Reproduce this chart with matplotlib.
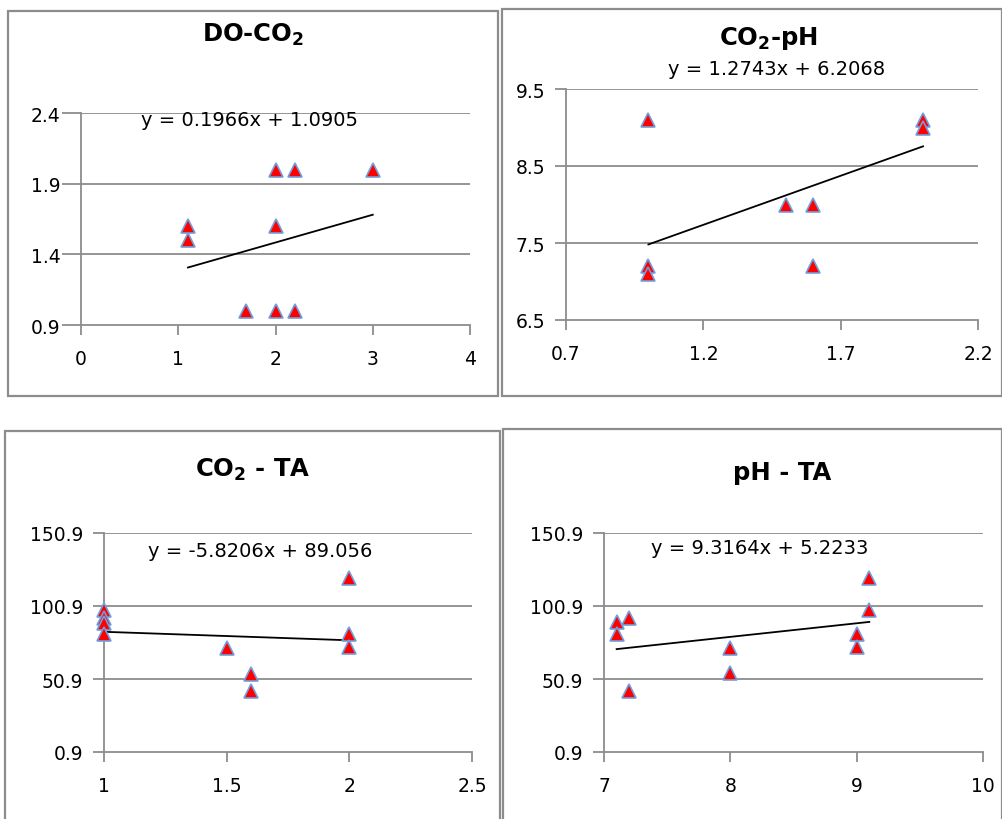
import numpy as np
import matplotlib
matplotlib.use('Agg')
import matplotlib.pyplot as plt
from matplotlib.patches import Rectangle

plt.rcParams['font.family'] = ['DejaVu Sans']
plt.rcParams['mathtext.fontset'] = 'dejavusans'

# DO - CO2
do_x = [1.1, 1.1, 1.7, 2.0, 2.0, 2.0, 2.2, 2.2, 3.0]
do_y = [1.6, 1.5, 1.0, 2.0, 1.6, 1.0, 2.0, 1.0, 2.0]
do_fit = (0.1966, 1.0905)

# CO2 - pH
cp_x = [1.0, 1.0, 1.0, 1.5, 1.6, 1.6, 2.0, 2.0]
cp_y = [9.1, 7.2, 7.1, 8.0, 8.0, 7.2, 9.1, 9.0]
cp_fit = (1.2743, 6.2068)

# CO2 - TA
ct_x = [1.0, 1.0, 1.0, 1.0, 1.5, 1.6, 1.6, 2.0, 2.0, 2.0]
ct_y = [98, 93, 89, 82, 72, 54, 43, 120, 82, 73]
ct_fit = (-5.8206, 89.056)

# pH - TA
pt_x = [7.1, 7.1, 7.2, 7.2, 8.0, 8.0, 9.0, 9.0, 9.1, 9.1]
pt_y = [90, 82, 93, 43, 72, 55, 82, 73, 120, 98]
pt_fit = (9.3164, 5.2233)

titles = [r'DO-CO$_\mathbf{2}$', r'CO$_\mathbf{2}$-pH', r'CO$_\mathbf{2}$ - TA', 'pH - TA']
fit_labels = ['y = 0.1966x + 1.0905', 'y = 1.2743x + 6.2068',
              'y = -5.8206x + 89.056', 'y = 9.3164x + 5.2233']
x_ticks = [[0, 1, 2, 3, 4], [0.7, 1.2, 1.7, 2.2], [1, 1.5, 2, 2.5], [7, 8, 9, 10]]
x_labels = [['0', '1', '2', '3', '4'], ['0.7', '1.2', '1.7', '2.2'],
            ['1', '1.5', '2', '2.5'], ['7', '8', '9', '10']]
y_ticks = [[0.9, 1.4, 1.9, 2.4], [6.5, 7.5, 8.5, 9.5],
           [0.9, 50.9, 100.9, 150.9], [0.9, 50.9, 100.9, 150.9]]

W, H = 1003, 820
fig = plt.figure(figsize=(W / 100, H / 100), dpi=100)

def px_box(l, t, r, b):
    return [l / W, 1 - b / H, (r - l) / W, (b - t) / H]

boxes = [(8, 12, 498, 397), (502, 10, 1002, 397), (5, 432, 500, 830), (503, 430, 1002, 830)]
for l, t, r, b in boxes:
    fig.patches.append(Rectangle((l / W, 1 - b / H), (r - l) / W, (b - t) / H,
                                 transform=fig.transFigure, fill=False,
                                 edgecolor='#8c8c8c', linewidth=1.6))

areas = [(81, 114, 470, 326), (566, 90, 978, 321), (104, 534, 472, 753), (604, 534, 983, 753)]
title_pos = [(253, 35), (768, 38), (253, 470), (782, 473)]
eq_pos = [(0.434, 0.97), (0.512, 1.087), (0.424, 0.918), (0.41, 0.936)]
ytick_len = [13.5, 8, 8, 8]
ytick_pad = [1, 7, 7, 7]

datasets = [(do_x, do_y, do_fit), (cp_x, cp_y, cp_fit), (ct_x, ct_y, ct_fit), (pt_x, pt_y, pt_fit)]
grid_col = '#8c8c8c'

for i, (xs, ys, fit) in enumerate(datasets):
    ax = fig.add_axes(px_box(*areas[i]))
    ax.set_xlim(x_ticks[i][0], x_ticks[i][-1])
    ax.set_ylim(y_ticks[i][0], y_ticks[i][-1])
    ax.set_xticks(x_ticks[i])
    ax.set_xticklabels(x_labels[i])
    ax.set_yticks(y_ticks[i])
    ax.set_yticklabels([('%g' % v) for v in y_ticks[i]])
    for v in y_ticks[i][1:]:
        ax.axhline(v, color=grid_col, lw=1.3, zorder=1)
    for s in ['top', 'right']:
        ax.spines[s].set_visible(False)
    for s in ['left', 'bottom']:
        ax.spines[s].set_color(grid_col)
        ax.spines[s].set_linewidth(1.3)
    ax.tick_params(axis='x', length=7, width=1.3, color=grid_col, labelsize=13.5, pad=10)
    ax.tick_params(axis='y', length=ytick_len[i], width=1.3, color=grid_col,
                   labelsize=13.5, pad=ytick_pad[i])

    xx = np.array([min(xs), max(xs)])
    ax.plot(xx, fit[0] * xx + fit[1], color='black', lw=1.3, zorder=2)
    ax.plot(xs, ys, linestyle='none', marker='^', ms=10.5, mfc='red', mec='#6f9fdc',
            mew=1.2, zorder=3, clip_on=False)

    ax.text(eq_pos[i][0], eq_pos[i][1], fit_labels[i], transform=ax.transAxes,
            ha='center', va='center', fontsize=14)
    fig.text(title_pos[i][0] / W, 1 - title_pos[i][1] / H, titles[i],
             ha='center', va='center', fontsize=17.5, fontweight='bold')

fig.savefig('out.png', dpi=100)
